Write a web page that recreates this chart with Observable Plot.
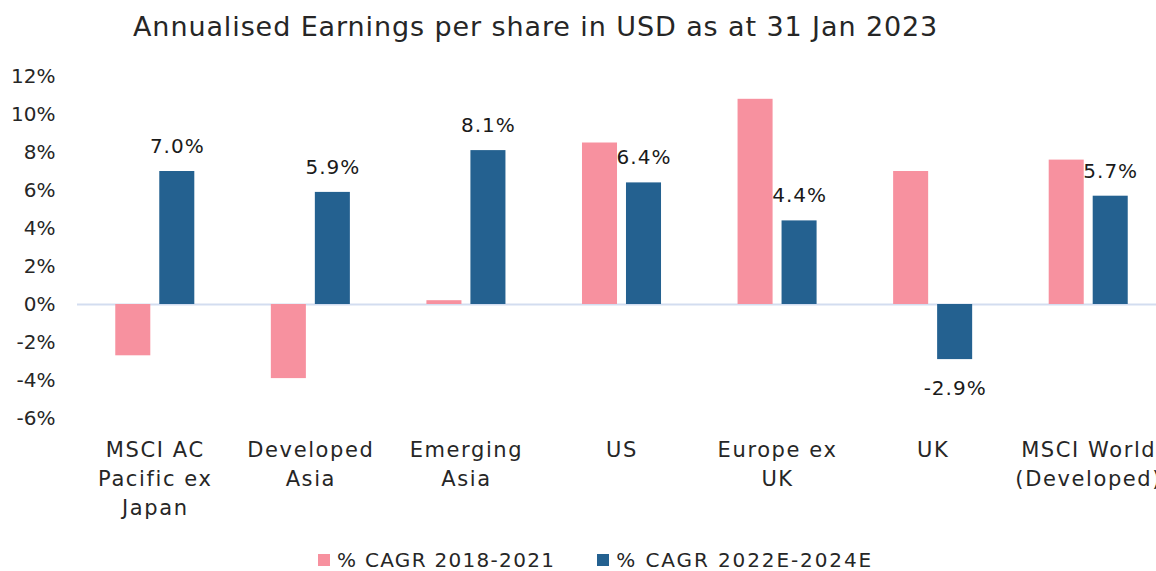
<!DOCTYPE html>
<html>
<head>
<meta charset="utf-8">
<script src="https://cdn.jsdelivr.net/npm/d3@7"></script>
<script src="https://cdn.jsdelivr.net/npm/@observablehq/plot@0.6"></script>
<style>
  html, body { margin: 0; padding: 0; background: #fff; }
  body { width: 1156px; height: 571px; overflow: hidden; font-family: "DejaVu Sans", sans-serif; color: #262626; }
  #title { height: 52px; line-height: 54px; font-size: 27px; letter-spacing: 0.9px; padding-left: 133px; white-space: nowrap; }
  #chart { height: 478px; width: 1166px; }
  #chart svg { max-width: none !important; }
  #chart g[aria-label="x-axis tick label"] text { letter-spacing: 1.6px; }
  #chart g[aria-label="text"] text { letter-spacing: 1px; }
  #legend { display: flex; align-items: center; padding-left: 318px; padding-top: 18px; font-size: 20px; letter-spacing: 1.3px; white-space: nowrap; }
  .sw { width: 12px; height: 12px; display: inline-block; margin-right: 7px; }
  .item { display: flex; align-items: center; margin-right: 42px; }
  .item:last-child { letter-spacing: 1.9px; }
</style>
</head>
<body>
<div id="title">Annualised Earnings per share in USD as at 31 Jan 2023</div>
<div id="chart"></div>
<div id="legend"></div>
<script>
const categories = ["MSCI AC Pacific ex Japan", "Developed Asia", "Emerging Asia", "US", "Europe ex UK", "UK", "MSCI World (Developed)"];
const tickLabels = ["MSCI AC\nPacific ex\nJapan", "Developed\nAsia", "Emerging\nAsia", "US", "Europe ex\nUK", "UK", "MSCI World\n(Developed)"];
const series = ["% CAGR 2018-2021", "% CAGR 2022E-2024E"];
const cagr2018_2021 = [-2.7, -3.9, 0.2, 8.5, 10.8, 7.0, 7.6];
const cagr2022E_2024E = [7.0, 5.9, 8.1, 6.4, 4.4, -2.9, 5.7];
const yTicks = [-6, -4, -2, 0, 2, 4, 6, 8, 10, 12];
const colors = ["#F7919F", "#246190"];

const first = categories.map((c, i) => ({category: c, series: series[0], value: cagr2018_2021[i]}));
const second = categories.map((c, i) => ({category: c, series: series[1], value: cagr2022E_2024E[i]}));
const fmt = d => d.value.toFixed(1) + "%";

const chart = Plot.plot({
  width: 1166,
  height: 478,
  marginLeft: 77,
  marginRight: 0,
  marginTop: 24,
  marginBottom: 112,
  style: {fontFamily: "DejaVu Sans, sans-serif", color: "#262626", background: "transparent", overflow: "visible", maxWidth: "none"},
  x: {domain: categories, paddingInner: 0.492, paddingOuter: 0.246, round: false, label: null},
  y: {domain: [-6, 12], label: null},
  color: {domain: series, range: colors},
  marks: [
    Plot.ruleY([0], {stroke: "#d3ddf0", strokeWidth: 2}),
    Plot.barY(first, {x: "category", y: "value", fill: "series", insetRight: 44}),
    Plot.barY(second, {x: "category", y: "value", fill: "series", insetLeft: 44}),
    Plot.text(second.filter(d => d.value >= 0), {x: "category", y: "value", text: fmt, dx: 22, dy: -25, fontSize: 20, fill: "#1a1a1a"}),
    Plot.text(second.filter(d => d.value < 0), {x: "category", y: "value", text: fmt, dx: 22, dy: 29, fontSize: 20, fill: "#1a1a1a"}),
    Plot.axisY({ticks: yTicks, tickSize: 0, tickPadding: 22, tickFormat: d => d + "%", fontSize: 20, fill: "#262626", label: null}),
    Plot.axisX({anchor: "bottom", tickSize: 0, tickPadding: 18, tickFormat: d => tickLabels[categories.indexOf(d)], fontSize: 21, lineHeight: 1.38, fill: "#262626", label: null})
  ]
});
document.getElementById("chart").appendChild(chart);

const legend = document.getElementById("legend");
series.forEach((s, i) => {
  const item = document.createElement("div");
  item.className = "item";
  const sw = document.createElement("span");
  sw.className = "sw";
  sw.style.background = colors[i];
  item.appendChild(sw);
  item.appendChild(document.createTextNode(s));
  legend.appendChild(item);
});
</script>
</body>
</html>
